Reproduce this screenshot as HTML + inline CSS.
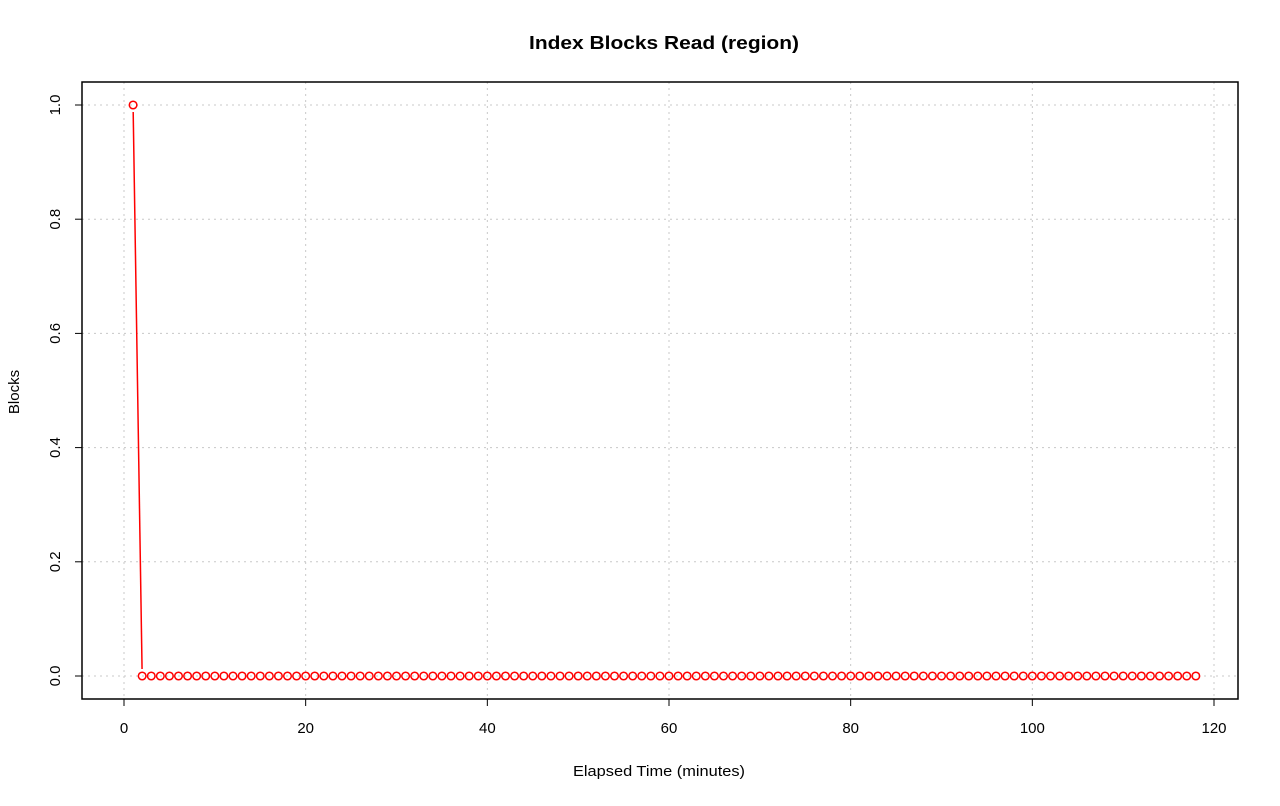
<!DOCTYPE html>
<html><head><meta charset="utf-8"><style>
html,body{margin:0;padding:0;background:#fff;}
svg text{font-family:"Liberation Sans",sans-serif;fill:#000;}
</style></head><body>
<svg id="chart" width="1280" height="801">
<text x="664" y="49" font-size="18" font-weight="bold" text-anchor="middle" textLength="270" lengthAdjust="spacingAndGlyphs">Index Blocks Read (region)</text>
<text x="659" y="776" font-size="15" text-anchor="middle" textLength="172" lengthAdjust="spacingAndGlyphs">Elapsed Time (minutes)</text>
<text x="0" y="0" font-size="15" text-anchor="middle" transform="translate(19,392) rotate(-90)">Blocks</text>
<g id="grid"></g>
<g id="axes"></g>
<g id="series"></g>
<rect x="82" y="82" width="1156" height="617" fill="none" stroke="#000" stroke-width="1.5"/>
</svg>
<script>
const xTicks=[0,20,40,60,80,100,120];
const yTicks=[0.0,0.2,0.4,0.6,0.8,1.0];
const yTickLabels=["0.0","0.2","0.4","0.6","0.8","1.0"];
const minutes=[];for(let i=1;i<=118;i++)minutes.push(i);
const blocks=[1].concat(new Array(117).fill(0));

const sx=v=>124+v*(1214-124)/120;
const sy=v=>676-v*(676-105);
const NS="http://www.w3.org/2000/svg";
function mk(tag,attrs,parent){const e=document.createElementNS(NS,tag);for(const k in attrs)e.setAttribute(k,attrs[k]);parent.appendChild(e);return e;}
const grid=document.getElementById('grid'),axes=document.getElementById('axes'),series=document.getElementById('series');
xTicks.forEach(t=>{
  const g=mk('line',{x1:sx(t),x2:sx(t),y1:82,y2:699,stroke:'#c8c8c8','stroke-dasharray':'2,4'},grid);
  
  
  const tk=mk('line',{x1:sx(t),x2:sx(t),y1:699,y2:706,stroke:'#000'},axes);
  
  
  const lb=mk('text',{x:sx(t),y:733,'font-size':15,'text-anchor':'middle'},axes);
  lb.textContent=t;
  
  
});
yTicks.forEach((t,i)=>{
  const g=mk('line',{x1:82,x2:1238,y1:sy(t),y2:sy(t),stroke:'#c8c8c8','stroke-dasharray':'2,4'},grid);
  
  
  const tk=mk('line',{x1:75,x2:82,y1:sy(t),y2:sy(t),stroke:'#000'},axes);
  
  
  const lb=mk('text',{x:0,y:0,'font-size':15,'text-anchor':'middle',transform:`translate(60,${sy(t)}) rotate(-90)`},axes);
  lb.textContent=yTickLabels[i];
  
  
});
const gap=7;
for(let i=0;i<minutes.length-1;i++){
  const x1=sx(minutes[i]),y1=sy(blocks[i]),x2=sx(minutes[i+1]),y2=sy(blocks[i+1]);
  const d=Math.hypot(x2-x1,y2-y1);if(d<=2*gap)continue;
  const ux=(x2-x1)/d,uy=(y2-y1)/d;
  const s=mk('line',{x1:x1+ux*gap,y1:y1+uy*gap,x2:x2-ux*gap,y2:y2-uy*gap,stroke:'#ff0000','stroke-width':1.5},series);
  
  
}
minutes.forEach((m,i)=>{
  const c=mk('circle',{cx:sx(m),cy:sy(blocks[i]),r:3.8,fill:'none',stroke:'#ff0000','stroke-width':1.5},series);
  
  
});
</script>
</body></html>
